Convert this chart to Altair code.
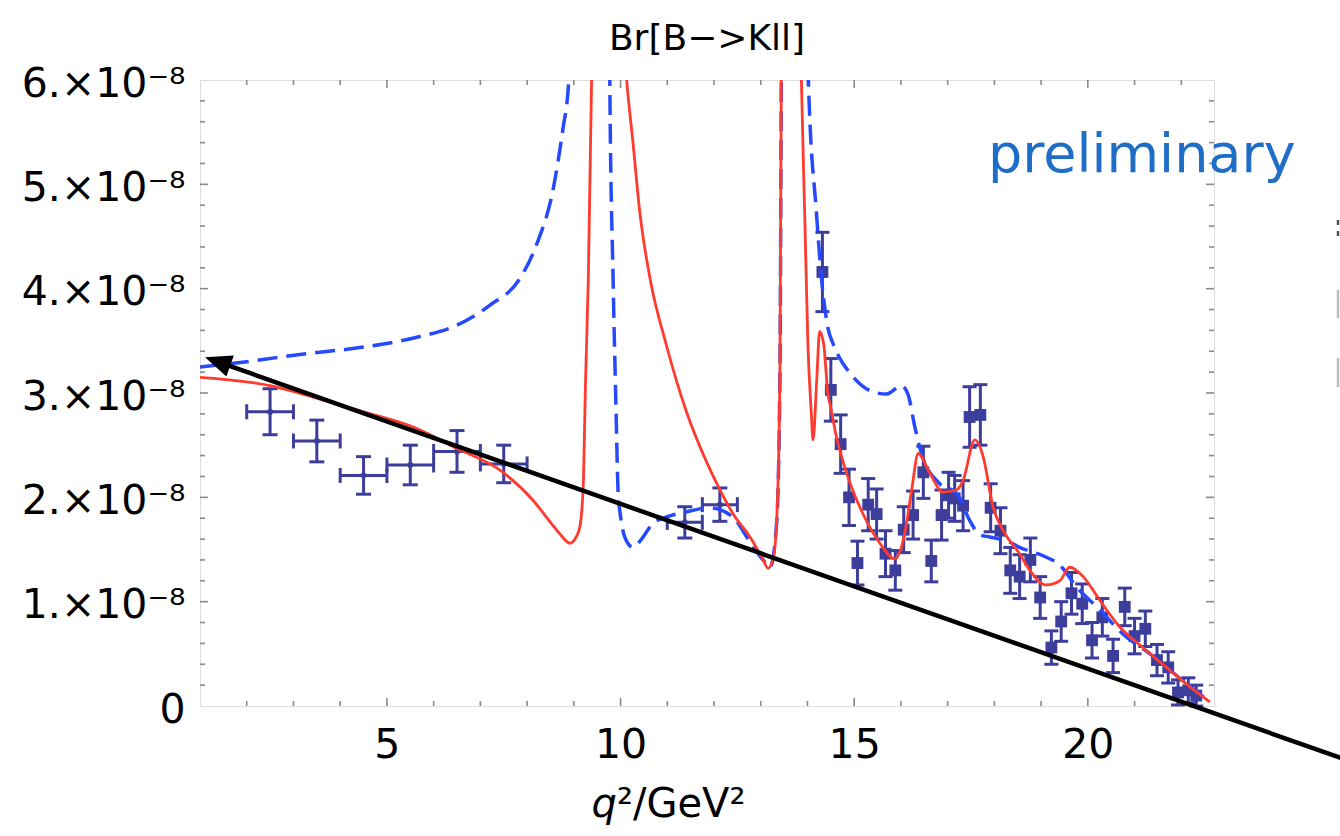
import altair as alt
import pandas as pd

# ---------------- layout ----------------
PLOT_W, PLOT_H = 1014, 626
X_DOMAIN = [1.0, 22.7]
Y_DOMAIN = [0.0, 6.0]          # in units of 1e-8

TITLE = "Br[B−>Kll]"
X_TITLE_VAR = "q"
X_TITLE_REST = "²/GeV²"
NOTE = "preliminary"

RED = "#ff3b2f"
BLUE = "#2549ff"
NAVY = "#3d3d9c"
FRAME = "#8a8a8a"

# ---------------- ticks ----------------
X_LABEL_TICKS = [5, 10, 15, 20]
X_MINOR_TICKS = [2, 3, 4, 6, 7, 8, 9, 11, 12, 13, 14, 16, 17, 18, 19, 21, 22]
Y_LABEL_TICKS = [0, 1, 2, 3, 4, 5, 6]
Y_MAJOR_TICKS = [1, 2, 3, 4, 5]
Y_MINOR_TICKS = [0.2, 0.4, 0.6, 0.8, 1.2, 1.4, 1.6, 1.8, 2.2, 2.4, 2.6, 2.8,
                 3.2, 3.4, 3.6, 3.8, 4.2, 4.4, 4.6, 4.8, 5.2, 5.4, 5.6, 5.8]

# ---------------- data: binned low-q2 points ----------------
low_x = [2.5, 3.5, 4.5, 5.5, 6.5, 7.5, 11.375, 12.125]
low_xlo = [2.0, 3.0, 4.0, 5.0, 6.0, 7.0, 11.0, 11.75]
low_xhi = [3.0, 4.0, 5.0, 6.0, 7.0, 8.0, 11.75, 12.5]
low_y = [2.82, 2.54, 2.21, 2.31, 2.44, 2.32, 1.76, 1.93]
low_err = [0.22, 0.20, 0.18, 0.19, 0.20, 0.18, 0.15, 0.16]

# ---------------- data: fine high-q2 points ----------------
high_x = [14.32, 14.50, 14.71, 14.89, 15.07, 15.30, 15.48, 15.67, 15.88, 16.06,
          16.26, 16.48, 16.65, 16.87, 17.02, 17.15, 17.33, 17.47, 17.70, 17.92,
          18.13, 18.34, 18.54, 18.77, 18.98, 19.22, 19.43, 19.65, 19.88, 20.09,
          20.31, 20.54, 20.79, 21.00, 21.23, 21.48, 21.72, 21.93, 22.15, 22.32]
high_y = [4.16, 3.03, 2.51, 2.00, 1.37, 1.93, 1.84, 1.46, 1.30, 1.69,
          1.83, 2.24, 1.39, 1.83, 2.02, 1.99, 1.92, 2.77, 2.79, 1.90,
          1.68, 1.30, 1.24, 1.40, 1.04, 0.56, 0.81, 1.08, 0.98, 0.63,
          0.85, 0.48, 0.95, 0.67, 0.74, 0.44, 0.37, 0.13, 0.15, 0.10]
high_err = [0.38, 0.30, 0.28, 0.27, 0.21, 0.25, 0.24, 0.22, 0.19, 0.22,
            0.23, 0.25, 0.20, 0.24, 0.22, 0.22, 0.24, 0.29, 0.29, 0.23,
            0.22, 0.22, 0.21, 0.21, 0.20, 0.16, 0.19, 0.20, 0.19, 0.17,
            0.18, 0.16, 0.18, 0.17, 0.17, 0.15, 0.15, 0.12, 0.12, 0.10]

# ---------------- data: red solid curve ----------------
red_x = [1.0, 2.5, 3.42, 4.5, 5.64, 6.49, 7.42, 8.13, 8.5, 8.7, 8.92, 9.05, 9.13,
         9.2, 9.25, 9.31, 9.38, 9.45, 9.6, 9.8, 9.95, 10.13, 10.27, 10.41, 10.63,
         10.98, 11.41, 11.84, 12.13, 12.41, 12.77, 13.02, 13.16, 13.28, 13.36,
         13.41, 13.44, 13.5, 13.6, 13.75, 13.87, 13.94, 14.01, 14.08, 14.12,
         14.2, 14.26, 14.35, 14.44, 14.48, 14.62, 14.84, 15.19, 15.55, 15.87,
         16.08, 16.23, 16.37, 16.62, 16.9, 17.19, 17.33, 17.58, 17.76, 17.97,
         18.19, 18.54, 18.76, 19.11, 19.4, 19.61, 19.9, 20.26, 20.68, 21.18,
         21.68, 22.11, 22.61]
red_y = [3.15, 3.07, 2.96, 2.82, 2.66, 2.47, 2.26, 1.97, 1.76, 1.65, 1.56, 1.62, 1.72,
         2.1, 3.1, 4.1, 6.0, 9.0, 30.0, 9.0, 7.2, 6.0, 5.38, 4.74, 4.10,
         3.46, 2.82, 2.34, 2.07, 1.84, 1.62, 1.43, 1.32, 1.45, 2.0,
         3.2, 6.0, 10.0, 30.0, 10.0, 6.0, 4.74, 3.46, 2.82, 2.55,
         3.14, 3.59, 3.46, 2.98, 2.90, 2.58, 2.23, 1.84, 1.56, 1.41,
         1.65, 2.07, 2.42, 2.23, 2.05, 2.07, 2.16, 2.55, 2.39, 1.91,
         1.68, 1.46, 1.30, 1.16, 1.20, 1.33, 1.24, 1.01, 0.76, 0.56,
         0.37, 0.21, 0.04]

# ---------------- data: blue dashed curve ----------------
blue_x = [1.0, 2.0, 3.14, 4.5, 5.6, 6.5, 7.2, 7.85, 8.2, 8.56, 8.77, 8.88, 8.95,
          9.1, 9.4, 9.6, 9.7, 9.77, 9.84, 9.9, 9.95, 9.99, 10.09, 10.27, 10.45,
          10.69, 10.98, 11.4, 11.9, 12.41, 12.7, 13.05, 13.2, 13.34, 13.41,
          13.44, 13.5, 13.6, 13.9, 14.02, 14.19, 14.3, 14.44, 14.55, 14.66,
          14.91, 15.41, 15.69, 16.01, 16.15, 16.3, 16.44, 16.83, 17.19, 17.47,
          17.69, 17.9, 18.33, 18.54, 19.04, 19.4, 19.76, 20.26, 20.75, 21.33,
          22.04, 22.61]
blue_y = [3.25, 3.30, 3.37, 3.44, 3.53, 3.65, 3.84, 4.10, 4.42, 4.96, 5.54, 5.92, 6.5,
          8.5, 20.0, 40.0, 12.0, 6.0, 4.10, 2.9, 2.02, 1.85, 1.62, 1.52, 1.60,
          1.75, 1.81, 1.86, 1.90, 1.81, 1.62, 1.40, 1.33, 1.75, 3.12,
          6.0, 12.0, 30.0, 12.0, 6.0, 4.74, 4.10, 3.62, 3.47, 3.36,
          3.19, 3.01, 2.99, 3.07, 2.99, 2.67, 2.42, 2.13, 2.04, 1.78,
          1.64, 1.62, 1.57, 1.52, 1.44, 1.35, 1.14, 0.92, 0.69, 0.50,
          0.24, 0.04]

# ---------------- annotation arrow (data coordinates) ----------------
ARROW_TIP = [1.107, 3.343]
ARROW_FROM = [26.67, -0.697]
ARROW_TO = [1.599, 3.265]

# ---------------- scales / axes ----------------
xs = alt.Scale(domain=X_DOMAIN, nice=False, zero=False)
ys = alt.Scale(domain=Y_DOMAIN, nice=False, zero=False)

x_axis = alt.Axis(values=X_LABEL_TICKS, ticks=False, domain=False, grid=False,
                  labelFont="DejaVu Sans", labelFontSize=41, labelColor="black",
                  labelPadding=19, labelFlush=False, labelOverlap=False)
y_axis = alt.Axis(values=Y_LABEL_TICKS, ticks=False, domain=False, grid=False,
                  labelExpr="datum.value == 0 ? '0' : datum.value + '.×10⁻⁸'",
                  labelFont="DejaVu Sans", labelFontSize=41, labelColor="black",
                  labelPadding=15, labelOffset=4, labelFlush=False, labelOverlap=False)


def X(f):
    return alt.X(f, type="quantitative", scale=xs, axis=x_axis, title=None)


def Y(f):
    return alt.Y(f, type="quantitative", scale=ys, axis=y_axis, title=None)


layers = []

# frame ticks (inward)
def xticks(vals, ln):
    d = pd.DataFrame({"v": vals})
    b = alt.Chart(d).mark_rule(color=FRAME, strokeWidth=1.6).encode(
        x=X("v"), y=alt.value(PLOT_H), y2=alt.value(PLOT_H - ln))
    t = alt.Chart(d).mark_rule(color=FRAME, strokeWidth=1.6).encode(
        x=X("v"), y=alt.value(0), y2=alt.value(ln))
    return [b, t]


def yticks(vals, ln):
    d = pd.DataFrame({"v": vals})
    l = alt.Chart(d).mark_rule(color=FRAME, strokeWidth=1.6).encode(
        y=Y("v"), x=alt.value(0), x2=alt.value(ln))
    r = alt.Chart(d).mark_rule(color=FRAME, strokeWidth=1.6).encode(
        y=Y("v"), x=alt.value(PLOT_W), x2=alt.value(PLOT_W - ln))
    return [l, r]


layers += xticks(X_LABEL_TICKS, 8) + xticks(X_MINOR_TICKS, 5)
layers += yticks(Y_MAJOR_TICKS, 8) + yticks(Y_MINOR_TICKS, 5)

# low-q2 binned data
low_df = pd.DataFrame({"x": low_x, "xlo": low_xlo, "xhi": low_xhi, "y": low_y,
                       "ylo": [a - b for a, b in zip(low_y, low_err)],
                       "yhi": [a + b for a, b in zip(low_y, low_err)]})
lc = alt.Chart(low_df)
layers += [
    lc.mark_rule(color=NAVY, strokeWidth=3).encode(x=X("x"), y=Y("ylo"), y2=alt.Y2("yhi")),
    lc.mark_rule(color=NAVY, strokeWidth=3).encode(x=X("xlo"), x2=alt.X2("xhi"), y=Y("y")),
    lc.mark_tick(orient="horizontal", size=15, thickness=3, color=NAVY, opacity=1).encode(x=X("x"), y=Y("ylo")),
    lc.mark_tick(orient="horizontal", size=15, thickness=3, color=NAVY, opacity=1).encode(x=X("x"), y=Y("yhi")),
    lc.mark_tick(orient="vertical", size=15, thickness=3, color=NAVY, opacity=1).encode(x=X("xlo"), y=Y("y")),
    lc.mark_tick(orient="vertical", size=15, thickness=3, color=NAVY, opacity=1).encode(x=X("xhi"), y=Y("y")),
    lc.mark_point(shape="diamond", filled=True, size=70, color=NAVY, opacity=1).encode(x=X("x"), y=Y("y")),
]

# high-q2 fine data
high_df = pd.DataFrame({"x": high_x, "y": high_y,
                        "ylo": [a - b for a, b in zip(high_y, high_err)],
                        "yhi": [a + b for a, b in zip(high_y, high_err)]})
hc = alt.Chart(high_df)
layers += [
    hc.mark_rule(color=NAVY, strokeWidth=3).encode(x=X("x"), y=Y("ylo"), y2=alt.Y2("yhi")),
    hc.mark_tick(orient="horizontal", size=14, thickness=3, color=NAVY, opacity=1).encode(x=X("x"), y=Y("ylo")),
    hc.mark_tick(orient="horizontal", size=14, thickness=3, color=NAVY, opacity=1).encode(x=X("x"), y=Y("yhi")),
    hc.mark_point(shape="square", filled=True, size=140, color=NAVY, opacity=1).encode(x=X("x"), y=Y("y")),
]

# theory curves
blue_df = pd.DataFrame({"x": blue_x, "y": blue_y})
red_df = pd.DataFrame({"x": red_x, "y": red_y})
layers += [
    alt.Chart(blue_df).mark_line(color=BLUE, strokeWidth=3.5, strokeDash=[20, 9],
                                 clip=True, interpolate="monotone").encode(x=X("x"), y=Y("y")),
    alt.Chart(red_df).mark_line(color=RED, strokeWidth=2.8, clip=True,
                                interpolate="monotone").encode(x=X("x"), y=Y("y")),
]

# arrow annotation
arrow_df = pd.DataFrame({"x": [ARROW_FROM[0]], "y": [ARROW_FROM[1]],
                         "x2": [ARROW_TO[0]], "y2": [ARROW_TO[1]]})
head_df = pd.DataFrame({"x": [ARROW_TIP[0]], "y": [ARROW_TIP[1]]})
layers += [
    alt.Chart(arrow_df).mark_rule(color="black", strokeWidth=4.5).encode(
        x=X("x"), y=Y("y"), x2=alt.X2("x2"), y2=alt.Y2("y2")),
    alt.Chart(head_df).mark_point(shape="M0,0 L1.9,-0.8 L1.9,0.8 Z", size=784, filled=True,
                                  color="black", opacity=1, angle=19.4, strokeWidth=0).encode(
        x=X("x"), y=Y("y")),
]

# chart title (text mark above the frame)
layers.append(
    alt.Chart(pd.DataFrame({"t": [TITLE]})).mark_text(
        font="DejaVu Sans", fontSize=36, color="black", align="center", baseline="alphabetic"
    ).encode(text="t:N", x=alt.value(PLOT_W / 2), y=alt.value(-30))
)

# x-axis title below the labels: italic q followed by the rest
layers += [
    alt.Chart(pd.DataFrame({"t": [X_TITLE_VAR]})).mark_text(
        font="DejaVu Sans", fontSize=40, fontStyle="italic", color="black",
        align="right", baseline="alphabetic"
    ).encode(text="t:N", x=alt.value(417), y=alt.value(PLOT_H + 111)),
    alt.Chart(pd.DataFrame({"t": [X_TITLE_REST]})).mark_text(
        font="DejaVu Sans", fontSize=40, color="black", align="left", baseline="alphabetic"
    ).encode(text="t:N", x=alt.value(417), y=alt.value(PLOT_H + 111)),
]

# "preliminary" note
layers.append(
    alt.Chart(pd.DataFrame({"t": [NOTE]})).mark_text(
        font="DejaVu Sans", fontSize=54, color="#1e6ec8", align="left", baseline="alphabetic"
    ).encode(text="t:N", x=alt.value(788), y=alt.value(92))
)

# cut-off fragments at right edge
for (y0, y1, col) in [(140, 145, "#555555"), (151, 156, "#555555"),
                      (210, 238, "#bbbbbb"), (278, 307, "#bbbbbb")]:
    layers.append(alt.Chart(pd.DataFrame({"a": [0]})).mark_rule(color=col, strokeWidth=2.5).encode(
        x=alt.value(1138), y=alt.value(y0), y2=alt.value(y1)))

chart = alt.layer(*layers).properties(
    width=PLOT_W, height=PLOT_H,
    padding={"left": 200, "top": 80, "right": 126, "bottom": 130},
    autosize=alt.AutoSizeParams(type="none"),
).configure_view(stroke=FRAME, strokeWidth=2.5).configure(background="white")

chart.save("out.html", embed_options={"renderer": "svg", "actions": False})
